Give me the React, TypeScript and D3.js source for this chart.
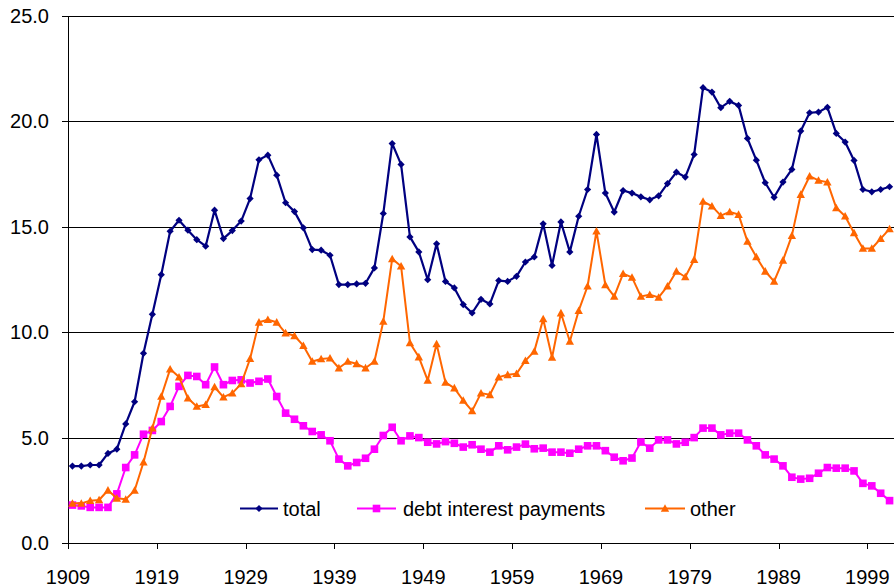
import React from "react";
import * as d3 from "d3";

const years: number[] = d3.range(1909, 2002);

const total: number[] = [
  3.65, 3.65, 3.7, 3.7, 4.25, 4.45, 5.65, 6.7, 9.0, 10.85,
  12.73, 14.79, 15.31, 14.84, 14.39, 14.08, 15.79, 14.44, 14.82, 15.27,
  16.34, 18.18, 18.4, 17.45, 16.14, 15.72, 14.95, 13.92, 13.89, 13.65,
  12.26, 12.26, 12.29, 12.32, 13.05, 15.63, 18.95, 17.96, 14.52, 13.81,
  12.49, 14.19, 12.41, 12.1, 11.31, 10.91, 11.56, 11.34, 12.45, 12.41,
  12.65, 13.33, 13.57, 15.14, 13.17, 15.23, 13.81, 15.5, 16.77, 19.38,
  16.6, 15.7, 16.72, 16.6, 16.42, 16.28, 16.47, 17.05, 17.59, 17.36,
  18.43, 21.6, 21.39, 20.65, 20.95, 20.76, 19.19, 18.16, 17.09, 16.4,
  17.12, 17.72, 19.54, 20.41, 20.44, 20.67, 19.43, 19.02, 18.15, 16.77,
  16.66, 16.77, 16.9,
];

const debtInterest: number[] = [
  1.8, 1.76, 1.69, 1.69, 1.69, 2.33, 3.58, 4.18, 5.16, 5.34,
  5.76, 6.48, 7.43, 7.95, 7.9, 7.51, 8.35, 7.51, 7.71, 7.74,
  7.59, 7.67, 7.78, 6.95, 6.16, 5.87, 5.56, 5.29, 5.13, 4.85,
  3.98, 3.66, 3.82, 4.02, 4.45, 5.1, 5.49, 4.85, 5.08, 5.0,
  4.78, 4.7, 4.81, 4.73, 4.55, 4.66, 4.45, 4.31, 4.61, 4.42,
  4.55, 4.69, 4.47, 4.5, 4.31, 4.31, 4.26, 4.45, 4.61, 4.61,
  4.38, 4.07, 3.9, 4.03, 4.79, 4.5, 4.89, 4.89, 4.7, 4.78,
  5.0, 5.45, 5.45, 5.13, 5.21, 5.21, 4.89, 4.61, 4.18, 3.98,
  3.66, 3.12, 3.03, 3.07, 3.31, 3.58, 3.55, 3.55, 3.42, 2.83,
  2.71, 2.36, 2.01,
];

const other: number[] = [
  1.88, 1.88, 2.01, 2.04, 2.5, 2.12, 2.07, 2.49, 3.83, 5.45,
  6.95, 8.25, 7.87, 6.87, 6.48, 6.56, 7.4, 6.92, 7.11, 7.55,
  8.74, 10.47, 10.59, 10.47, 9.96, 9.83, 9.36, 8.61, 8.73, 8.77,
  8.3, 8.61, 8.5, 8.3, 8.61, 10.51, 13.48, 13.13, 9.49, 8.82,
  7.71, 9.44, 7.62, 7.35, 6.76, 6.27, 7.11, 7.03, 7.87, 7.98,
  8.03, 8.65, 9.09, 10.63, 8.8, 10.91, 9.56, 11.02, 12.18, 14.79,
  12.24, 11.7, 12.78, 12.6, 11.7, 11.78, 11.65, 12.18, 12.89, 12.62,
  13.44, 16.2, 15.98, 15.53, 15.71, 15.58, 14.31, 13.57, 12.89, 12.41,
  13.41, 14.58, 16.53, 17.4, 17.2, 17.12, 15.9, 15.5, 14.71, 13.97,
  13.97, 14.44, 14.9,
];

const yTicks: number[] = [0, 5, 10, 15, 20, 25];
const xTickYears: number[] = [1909, 1919, 1929, 1939, 1949, 1959, 1969, 1979, 1989, 1999];

const seriesNames = ["total", "debt interest payments", "other"];

const W = 894;
const H = 588;
const L = 68;
const R = 894;
const T = 16;
const B = 543;
const FONT = "'Liberation Sans', Arial, sans-serif";

type Shape = "diamond" | "square" | "triangle";

function Marker({ x, y, shape, color }: { x: number; y: number; shape: Shape; color: string }) {
  if (shape === "diamond") {
    const s = 3.6;
    return <path d={`M${x},${y - s}L${x + s},${y}L${x},${y + s}L${x - s},${y}Z`} fill={color} />;
  }
  if (shape === "square") {
    const s = 3.8;
    return <rect x={x - s} y={y - s} width={2 * s} height={2 * s} fill={color} />;
  }
  const s = 4.2;
  return <path d={`M${x},${y - s}L${x + s},${y + s * 0.8}L${x - s},${y + s * 0.8}Z`} fill={color} />;
}

export default function App() {
  const x = d3.scaleLinear().domain([1909, 2002]).range([L, R]);
  const y = d3.scaleLinear().domain([0, 25]).range([B, T]);
  const px = (yr: number) => x(yr + 0.5);

  const series = [
    { name: seriesNames[0], values: total, color: "#000080", shape: "diamond" as Shape, width: 2.2 },
    { name: seriesNames[1], values: debtInterest, color: "#FF00FF", shape: "square" as Shape, width: 2 },
    { name: seriesNames[2], values: other, color: "#FF6600", shape: "triangle" as Shape, width: 2 },
  ];

  const line = d3
    .line<number>()
    .x((_, i) => px(years[i]))
    .y((d) => y(d));

  const legend = [
    { x0: 240, x1: 278, tx: 283 },
    { x0: 357, x1: 396, tx: 403 },
    { x0: 645, x1: 685, tx: 690 },
  ];
  const legendY = 508.5;

  return (
    <svg
      width={W}
      height={H}
      style={{ position: "absolute", left: 0, top: 0, background: "#fff" }}
      fontFamily={FONT}
    >
      {yTicks.map((t) => (
        <g key={t}>
          {t > 0 && (
            <line x1={L} x2={R} y1={Math.round(y(t)) + 0.5} y2={Math.round(y(t)) + 0.5} stroke="#000" strokeWidth={1} />
          )}
          <line x1={L - 6} x2={L} y1={Math.round(y(t)) + 0.5} y2={Math.round(y(t)) + 0.5} stroke="#000" strokeWidth={1} />
          <text x={49} y={y(t) + 7} fontSize={20} textAnchor="end" fill="#000">
            {t.toFixed(1)}
          </text>
        </g>
      ))}
      <line x1={L + 0.5} x2={L + 0.5} y1={T} y2={B} stroke="#000" strokeWidth={1} />
      <line x1={L} x2={R} y1={B + 0.5} y2={B + 0.5} stroke="#000" strokeWidth={1} />
      {xTickYears.map((yr) => (
        <g key={yr}>
          <line x1={Math.round(x(yr)) + 0.5} x2={Math.round(x(yr)) + 0.5} y1={B} y2={B + 6} stroke="#000" strokeWidth={1} />
          <text x={x(yr)} y={B + 41} fontSize={20} textAnchor="middle" fill="#000">
            {yr}
          </text>
        </g>
      ))}

      {series.map((s) => (
        <g key={s.name}>
          <path d={line(s.values) || ""} fill="none" stroke={s.color} strokeWidth={s.width} strokeLinejoin="round" />
          {s.values.map((v, i) => (
            <Marker key={i} x={px(years[i])} y={y(v)} shape={s.shape} color={s.color} />
          ))}
        </g>
      ))}

      {series.map((s, i) => (
        <g key={"lg" + s.name}>
          <line x1={legend[i].x0} x2={legend[i].x1} y1={legendY} y2={legendY} stroke={s.color} strokeWidth={s.width} />
          <Marker x={(legend[i].x0 + legend[i].x1) / 2} y={legendY} shape={s.shape} color={s.color} />
          <text x={legend[i].tx} y={legendY + 7.5} fontSize={20} fill="#000">
            {s.name}
          </text>
        </g>
      ))}
    </svg>
  );
}
